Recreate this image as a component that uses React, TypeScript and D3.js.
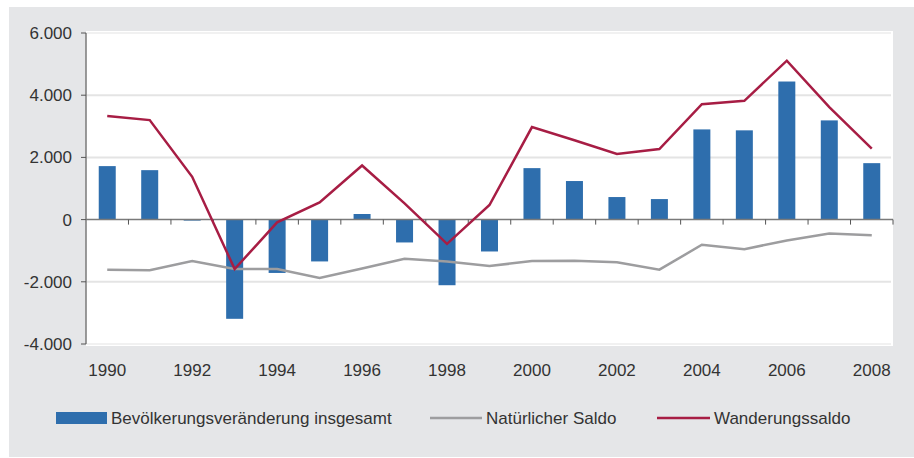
import React, { useEffect, useRef } from "react";
import * as d3 from "d3";

// data
const years = [
  1990, 1991, 1992, 1993, 1994, 1995, 1996, 1997, 1998, 1999,
  2000, 2001, 2002, 2003, 2004, 2005, 2006, 2007, 2008,
];
const gesamt = [
  1720, 1590, -30, -3190, -1715, -1345, 180, -735, -2110, -1025,
  1655, 1240, 725, 660, 2900, 2870, 4440, 3190, 1815,
];
const natuerlich = [
  -1610, -1630, -1330, -1590, -1590, -1875, -1570, -1260, -1350, -1495,
  -1330, -1320, -1375, -1610, -810, -950, -670, -450, -500,
];
const wanderung = [
  3330, 3200, 1375, -1590, -90, 555, 1740, 520, -780, 470,
  2975, 2550, 2110, 2270, 3710, 3820, 5110, 3615, 2285,
];
const yTicks = [-4000, -2000, 0, 2000, 4000, 6000];
const legendItems = [
  "Bevölkerungsveränderung insgesamt",
  "Natürlicher Saldo",
  "Wanderungssaldo",
];

const W = 914,
  H = 458;
const FONT = "'Liberation Sans', Arial, sans-serif";

export default function App() {
  const ref = useRef<SVGSVGElement>(null);

  useEffect(() => {
    const svg = d3.select(ref.current);
    svg.selectAll("*").remove();

    const left = 86,
      right = 893,
      top = 33,
      bottom = 344;

    // gray panel and white plot area
    svg.append("rect").attr("x", 9).attr("y", 7).attr("width", W - 9).attr("height", 450).attr("fill", "#e5e6e8");
    svg.append("rect").attr("x", left).attr("y", 31).attr("width", right - left).attr("height", 315).attr("fill", "#ffffff");

    const x = d3.scaleBand<number>().domain(years).range([left, right]).paddingInner(0).paddingOuter(0);
    const y = d3.scaleLinear().domain([-4000, 6000]).range([bottom, top]);

    // gridlines
    svg
      .selectAll(".grid")
      .data(yTicks.filter((t) => t !== 0))
      .enter()
      .append("line")
      .attr("x1", left)
      .attr("x2", right - 2)
      .attr("y1", (d) => y(d))
      .attr("y2", (d) => y(d))
      .attr("stroke", (d) => (d === 6000 || d === -4000 ? "#f1f1f1" : "#e4e4e4"))
      .attr("stroke-width", 2);

    // bars
    const bw = 17;
    svg
      .selectAll(".bar")
      .data(gesamt)
      .enter()
      .append("rect")
      .attr("x", (d, i) => x(years[i])! + x.bandwidth() / 2 - bw / 2)
      .attr("y", (d) => y(Math.max(0, d)))
      .attr("width", bw)
      .attr("height", (d) => Math.max(1, Math.abs(y(d) - y(0))))
      .attr("fill", "#2e6ead");

    // lines
    const line = d3
      .line<number>()
      .x((d, i) => x(years[i])! + x.bandwidth() / 2)
      .y((d) => y(d));

    svg
      .append("path")
      .datum(natuerlich)
      .attr("d", line)
      .attr("fill", "none")
      .attr("stroke", "#9d9d9f")
      .attr("stroke-width", 2.5);

    // x axis line at zero
    const xAxis = svg.append("g");
    xAxis
      .append("line")
      .attr("x1", left)
      .attr("x2", right)
      .attr("y1", y(0))
      .attr("y2", y(0))
      .attr("stroke", "#7a7a7a")
      .attr("stroke-width", 1.5);
    const boundaries = years.map((yr) => x(yr)!).concat([right]);
    xAxis
      .selectAll(".xt")
      .data(boundaries.slice(1))
      .enter()
      .append("line")
      .attr("x1", (d) => d)
      .attr("x2", (d) => d)
      .attr("y1", y(0))
      .attr("y2", y(0) + 5)
      .attr("stroke", "#555")
      .attr("stroke-width", 1);

    svg
      .append("path")
      .datum(wanderung)
      .attr("d", line)
      .attr("fill", "none")
      .attr("stroke", "#a71d44")
      .attr("stroke-width", 2.5);

    // y axis
    const yAxis = svg.append("g");
    yAxis
      .append("line")
      .attr("x1", left)
      .attr("x2", left)
      .attr("y1", top)
      .attr("y2", bottom)
      .attr("stroke", "#7a7a7a")
      .attr("stroke-width", 1.5);
    yAxis
      .selectAll(".yt")
      .data(yTicks)
      .enter()
      .append("line")
      .attr("x1", left - 5)
      .attr("x2", left)
      .attr("y1", (d) => y(d))
      .attr("y2", (d) => y(d))
      .attr("stroke", "#555");
    const fmt = (v: number) => d3.format(",")(v).replace(/,/g, ".").replace("−", "-");
    yAxis
      .selectAll(".yl")
      .data(yTicks)
      .enter()
      .append("text")
      .attr("x", left - 14)
      .attr("y", (d) => y(d))
      .attr("dy", "0.35em")
      .attr("text-anchor", "end")
      .attr("font-family", FONT)
      .attr("font-size", 17)
      .attr("fill", "#333")
      .text(fmt);

    // x labels, every second year
    svg
      .selectAll(".xl")
      .data(years.filter((yr) => yr % 2 === 0))
      .enter()
      .append("text")
      .attr("x", (d) => x(d)! + x.bandwidth() / 2)
      .attr("y", 376)
      .attr("text-anchor", "middle")
      .attr("font-family", FONT)
      .attr("font-size", 17)
      .attr("fill", "#333")
      .text((d) => d);

    // legend
    const ly = 418;
    const lg = svg.append("g").attr("font-family", FONT).attr("font-size", 17).attr("fill", "#333");
    lg.append("rect").attr("x", 56).attr("y", ly - 6).attr("width", 51).attr("height", 12).attr("fill", "#2e6ead");
    lg.append("text").attr("x", 111).attr("y", ly).attr("dy", "0.35em").text(legendItems[0]);
    lg.append("line").attr("x1", 430).attr("x2", 482).attr("y1", ly).attr("y2", ly).attr("stroke", "#9d9d9f").attr("stroke-width", 2.5);
    lg.append("text").attr("x", 486).attr("y", ly).attr("dy", "0.35em").text(legendItems[1]);
    lg.append("line").attr("x1", 657).attr("x2", 710).attr("y1", ly).attr("y2", ly).attr("stroke", "#a71d44").attr("stroke-width", 2.5);
    lg.append("text").attr("x", 714).attr("y", ly).attr("dy", "0.35em").text(legendItems[2]);
  }, []);

  return (
    <svg
      ref={ref}
      width={W}
      height={H}
      style={{ position: "absolute", left: 0, top: 0, background: "#fff" }}
    />
  );
}
